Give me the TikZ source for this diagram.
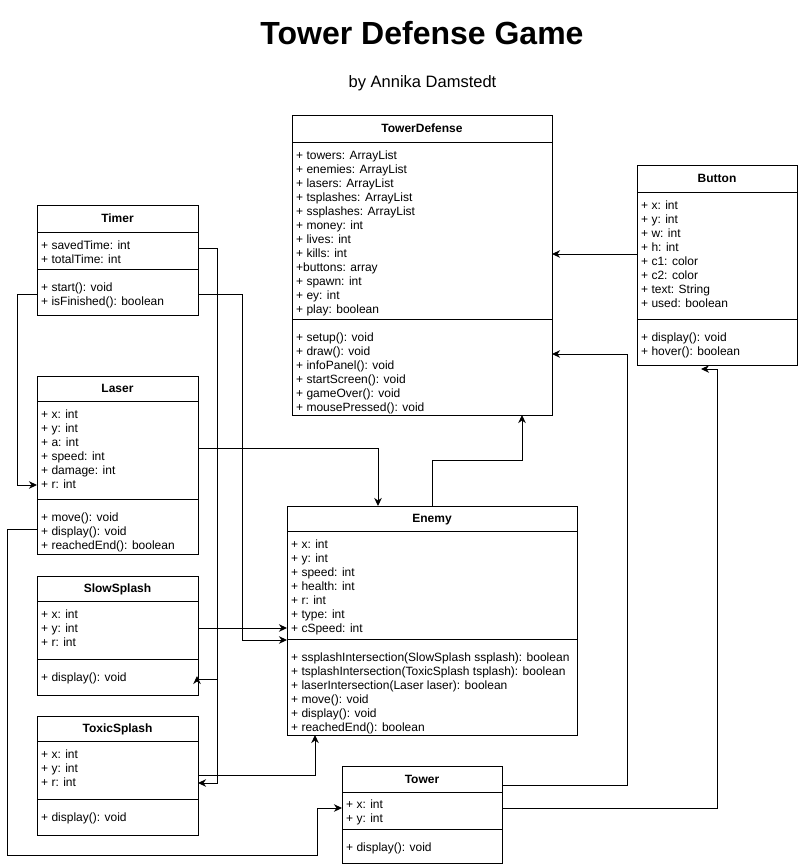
\documentclass[tikz,border=0pt]{standalone}
\usepackage{fontspec}
\setmainfont{Liberation Sans}
\usetikzlibrary{arrows.meta}
\tikzset{
  classbox/.style={draw, line width=1pt, inner sep=0pt, outer sep=0pt, anchor=north west},
  member/.style={anchor=base west, inner sep=0pt, font=\fontsize{12}{14}\selectfont},
  classtitle/.style={anchor=base, inner sep=0pt, font=\fontsize{12}{14}\selectfont\bfseries},
  wire/.style={line width=1pt},
  conn/.style={line width=1pt, -{Stealth[length=8pt,width=7.5pt,inset=2.5pt]}},
}
% name x1 y1 x2 y2 hdr sep title
\newcommand\umlbox[8]{%
  \node[classbox, minimum width={(#4-#2)*1pt}, minimum height={(#5-#3)*1pt}] (#1) at (#2,#3) {};
  \draw[wire] (#2,#6) -- (#4,#6);
  \draw[wire] (#2,#7) -- (#4,#7);
  \node[classtitle] (#1-t) at ({(#2+#4)/2},{(#3+#6)/2+4}) {#8};
}
% prefix x firstbaseline list
\newcommand\umllines[4]{%
  \foreach \t [count=\i] in {#4} {\node[member] (#1\i) at (#2,{#3+(\i-1)*14}) {\t};}
}
\begin{document}
\begin{tikzpicture}[x=1pt,y=-1pt]
\useasboundingbox (0,0) rectangle (798,867);

\node[anchor=base, inner sep=0pt, font=\fontsize{32}{38}\selectfont\bfseries] (title) at (422,45) {Tower Defense Game};
\node[anchor=base, inner sep=0pt, font=\fontsize{16.5}{19}\selectfont] (subtitle) at (422.5,88) {by Annika Damstedt};

% TowerDefense
\umlbox{td}{292}{115}{552}{415}{142}{319}{TowerDefense}
\umllines{td-a}{296}{159}{+ towers: ArrayList, + enemies: ArrayList, + lasers: ArrayList, + tsplashes: ArrayList, + ssplashes: ArrayList, + money: int, + lives: int, + kills: int, +buttons: array, + spawn: int, + ey: int, + play: boolean}
\umllines{td-m}{296}{341}{+ setup(): void, + draw(): void, + infoPanel(): void, + startScreen(): void, + gameOver(): void, + mousePressed(): void}

% Button
\umlbox{button}{637}{165}{797}{365}{192}{319}{Button}
\umllines{button-a}{641}{209}{+ x: int, + y: int, + w: int, + h: int, + c1: color, + c2: color, + text: String, + used: boolean}
\umllines{button-m}{641}{341}{+ display(): void, + hover(): boolean}

% Timer
\umlbox{timer}{37}{205}{198}{315}{232}{269}{Timer}
\umllines{timer-a}{41}{249}{+ savedTime: int, + totalTime: int}
\umllines{timer-m}{41}{291}{+ start(): void, + isFinished(): boolean}

% Laser
\umlbox{laser}{37}{376}{198}{554}{401}{499}{Laser}
\umllines{laser-a}{41}{418}{+ x: int, + y: int, + a: int, + speed: int, + damage: int, + r: int}
\umllines{laser-m}{41}{521}{+ move(): void, + display(): void, + reachedEnd(): boolean}

% SlowSplash
\umlbox{slow}{37}{576}{198}{695}{601}{659}{SlowSplash}
\umllines{slow-a}{41}{618}{+ x: int, + y: int, + r: int}
\umllines{slow-m}{41}{681}{+ display(): void}

% ToxicSplash
\umlbox{toxic}{37}{716}{198}{835}{741}{799}{ToxicSplash}
\umllines{toxic-a}{41}{758}{+ x: int, + y: int, + r: int}
\umllines{toxic-m}{41}{821}{+ display(): void}

% Enemy
\umlbox{enemy}{287}{506}{577}{735}{531}{639}{Enemy}
\umllines{enemy-a}{291}{548}{+ x: int, + y: int, + speed: int, + health: int, + r: int, + type: int, + cSpeed: int}
\umllines{enemy-m}{291}{661}{+ ssplashIntersection(SlowSplash ssplash): boolean, + tsplashIntersection(ToxicSplash tsplash): boolean, + laserIntersection(Laser laser): boolean, + move(): void, + display(): void, + reachedEnd(): boolean}

% Tower
\umlbox{tower}{342}{766}{502}{863}{792}{829}{Tower}
\umllines{tower-a}{346}{808}{+ x: int, + y: int}
\umllines{tower-m}{346}{851}{+ display(): void}

% connectors
\draw[conn] (timer.west |- 0,294) -- (17,294) -- (17,485) -- (laser.west |- 0,485);
\draw[conn] (timer.east |- 0,248) -- (217,248) -- (217,783) -- (toxic.east |- 0,783);
\draw[conn] (217,679) -- (197,679) -- (197,676);
\draw[conn] (timer.east |- 0,294) -- (242,294) -- (242,640) -- (enemy.west |- 0,640);
\draw[conn] (slow.east |- 0,628) -- (enemy.west |- 0,628);
\draw[conn] (laser.east |- 0,448) -- (378,448) -- (378,0 |- enemy.north);
\draw[conn] (laser.west |- 0,529) -- (7,529) -- (7,855) -- (317,855) -- (317,808) -- (tower.west |- 0,808);
\draw[conn] (toxic.east |- 0,775) -- (315,775) -- (315,0 |- enemy.south);
\draw[conn] (432,0 |- enemy.north) -- (432,460) -- (522,460) -- (522,0 |- td.south);
\draw[conn] (tower.east |- 0,785) -- (627,785) -- (627,354) -- (td.east |- 0,354);
\draw[conn] (tower.east |- 0,808) -- (717,808) -- (717,369) -- (701,369);
\draw[conn] (button.west |- 0,254) -- (td.east |- 0,254);
\end{tikzpicture}
\end{document}
